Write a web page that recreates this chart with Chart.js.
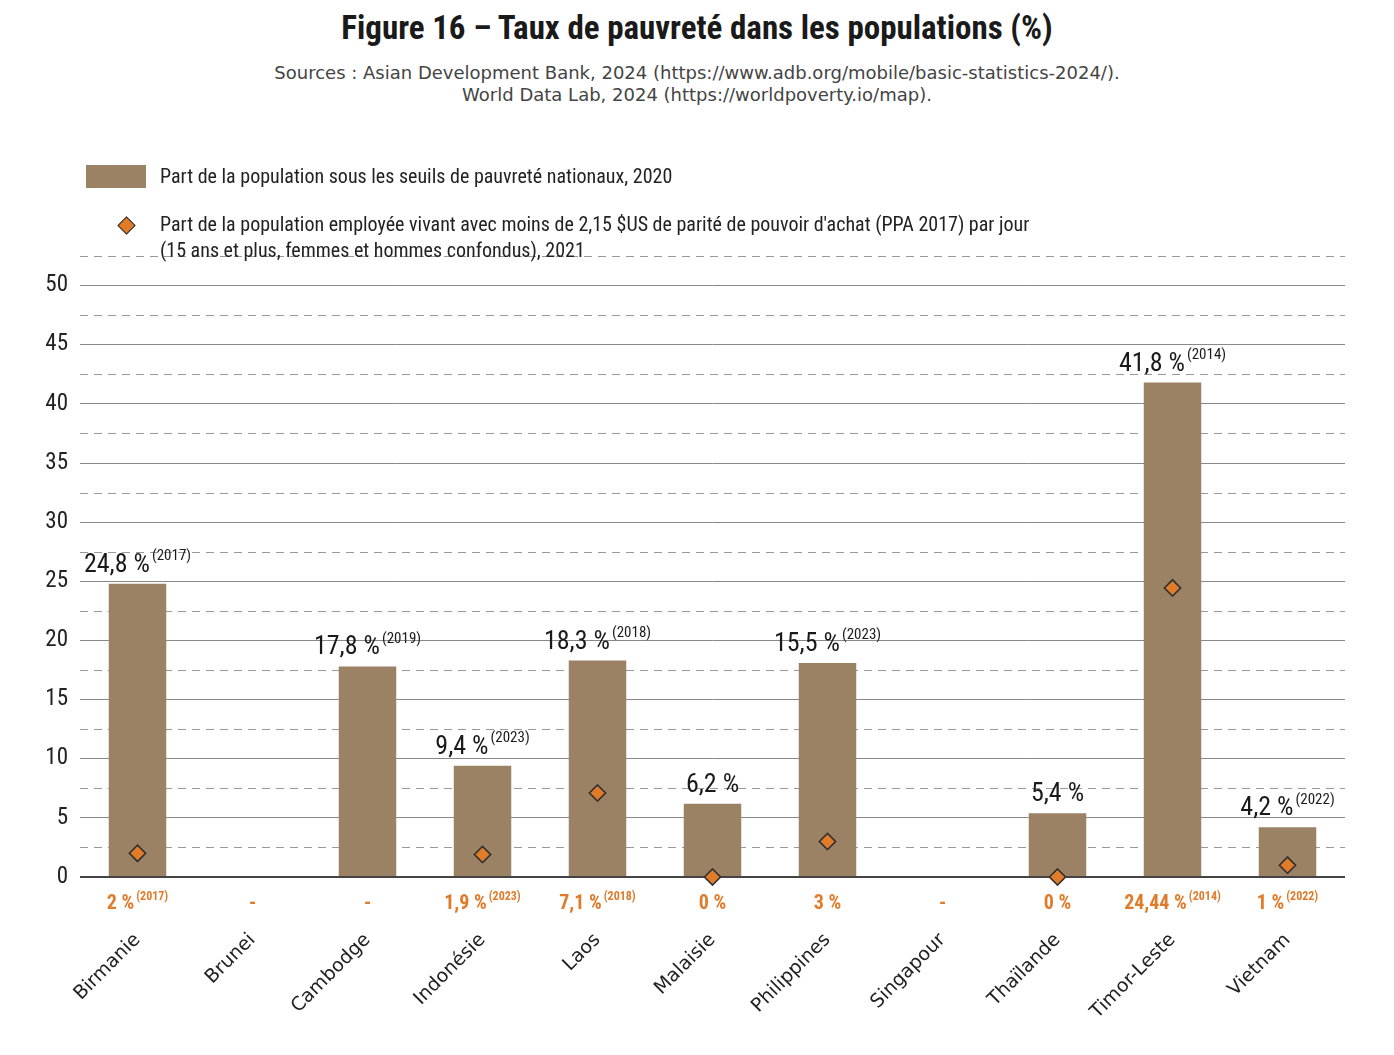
<!DOCTYPE html>
<html>
<head>
<meta charset="utf-8">
<script src="https://cdn.jsdelivr.net/npm/chart.js@4.4.1/dist/chart.umd.min.js"></script>
<style>
  body { margin: 0; width: 1394px; height: 1055px; background: #fff; position: relative; overflow: hidden; }
  #wrap { position: absolute; left: 0; top: 0; width: 1394px; height: 1055px; }
  .narrow { font-family: 'Liberation Sans Narrow', 'Roboto Condensed', 'Liberation Sans', sans-serif; }
  h1 { position: absolute; top: 8px; left: 0; width: 1394px; text-align: center; margin: 0; font-size: 33px; font-weight: bold; color: #1a1a1a; }
  .src { position: absolute; top: 62px; left: 0; width: 1394px; text-align: center; font-family: 'DejaVu Sans', sans-serif; font-size: 18px; color: #444; line-height: 22px; }
  .leg { position: absolute; font-size: 20px; color: #222; line-height: 26px; }
</style>
</head>
<body>
<h1 class="narrow">Figure 16 – Taux de pauvreté dans les populations (%)</h1>
<div class="src">Sources : Asian Development Bank, 2024 (https://www.adb.org/mobile/basic-statistics-2024/).<br>World Data Lab, 2024 (https://worldpoverty.io/map).</div>
<div id="wrap"><canvas id="c"></canvas></div>
<div style="position:absolute;left:86px;top:165px;width:60px;height:23px;background:#9c8264"></div>
<div class="leg narrow" style="left:160px;top:163px">Part de la population sous les seuils de pauvreté nationaux, 2020</div>
<div style="position:absolute;left:120px;top:219px;width:11px;height:11px;background:#e07b2a;border:1.5px solid #333;transform:rotate(45deg)"></div>
<div class="leg narrow" style="left:160px;top:211px">Part de la population employée vivant avec moins de 2,15 $US de parité de pouvoir d'achat (PPA 2017) par jour<br>(15 ans et plus, femmes et hommes confondus), 2021</div>
<script>
const countries = ['Birmanie', 'Brunei', 'Cambodge', 'Indonésie', 'Laos', 'Malaisie', 'Philippines', 'Singapour', 'Thaïlande', 'Timor-Leste', 'Vietnam'];
const nationalRate = [24.8, null, 17.8, 9.4, 18.3, 6.2, 18.1, null, 5.4, 41.8, 4.2];
const nationalLabel = ['24,8 %', '', '17,8 %', '9,4 %', '18,3 %', '6,2 %', '15,5 %', '', '5,4 %', '41,8 %', '4,2 %'];
const nationalYear = ['(2017)', '', '(2019)', '(2023)', '(2018)', '', '(2023)', '', '', '(2014)', '(2022)'];
const employedRate = [2, null, null, 1.9, 7.1, 0, 3, null, 0, 24.44, 1];
const employedLabel = ['2 %', '-', '-', '1,9 %', '7,1 %', '0 %', '3 %', '-', '0 %', '24,44 %', '1 %'];
const employedYear = ['(2017)', '', '', '(2023)', '(2018)', '', '', '', '', '(2014)', '(2022)'];

const NARROW = "'Liberation Sans Narrow', 'Roboto Condensed', sans-serif";

function drawSup(ctx, x, y, main, sup, size, supSize, color, bold) {
  ctx.fillStyle = color;
  ctx.textBaseline = 'alphabetic';
  ctx.font = (bold ? 'bold ' : '') + size + 'px ' + NARROW;
  const w1 = ctx.measureText(main).width;
  ctx.font = (bold ? 'bold ' : '') + supSize + 'px ' + NARROW;
  const w2 = sup ? ctx.measureText(sup).width + 2 : 0;
  const start = x - (w1 + w2) / 2;
  ctx.textAlign = 'left';
  ctx.font = (bold ? 'bold ' : '') + size + 'px ' + NARROW;
  ctx.fillText(main, start, y);
  if (sup) {
    ctx.font = (bold ? 'bold ' : '') + supSize + 'px ' + NARROW;
    ctx.fillText(sup, start + w1 + 2, y - size * 0.45);
  }
}

const extras = {
  id: 'extras',
  beforeDatasetsDraw(chart) {
    // dashed half-step grid lines
    const { ctx, chartArea, scales } = chart;
    ctx.save();
    ctx.strokeStyle = '#999';
    ctx.lineWidth = 1;
    ctx.setLineDash([8, 6]);
    for (let v = 2.5; v <= 52.5; v += 5) {
      const y = Math.round(scales.y.getPixelForValue(v)) + 0.5;
      ctx.beginPath();
      ctx.moveTo(chartArea.left, y);
      ctx.lineTo(chartArea.right, y);
      ctx.stroke();
    }
    ctx.restore();
  },
  afterDatasetsDraw(chart) {
    const { ctx, scales } = chart;
    ctx.save();
    const bars = chart.getDatasetMeta(1).data;
    countries.forEach((c, i) => {
      const x = scales.x.getPixelForValue(i);
      if (nationalLabel[i]) {
        const top = scales.y.getPixelForValue(nationalRate[i]);
        drawSup(ctx, x, top - 12, nationalLabel[i], nationalYear[i], 26, 15, '#1a1a1a', false);
      }
      drawSup(ctx, x, scales.y.bottom + 32, employedLabel[i], employedYear[i], 20, 12, '#e07b2a', true);
    });
    // baseline
    ctx.strokeStyle = '#444';
    ctx.lineWidth = 2;
    ctx.beginPath();
    ctx.moveTo(scales.x.left, scales.y.bottom);
    ctx.lineTo(scales.x.right, scales.y.bottom);
    ctx.stroke();
    ctx.restore();
  },
  afterDraw(chart) {
    // diamonds on top of baseline
    chart.getDatasetMeta(0).controller.draw();
  }
};

new Chart(document.getElementById('c'), {
  data: {
    labels: countries,
    datasets: [
      {
        type: 'line',
        label: 'Employés < 2,15 $US',
        data: employedRate,
        showLine: false,
        pointStyle: 'rectRot',
        pointRadius: 8,
        pointBackgroundColor: '#e07b2a',
        pointBorderColor: '#333',
        pointBorderWidth: 1.5,
        clip: false,
        order: 0
      },
      {
        type: 'bar',
        label: 'Seuils nationaux',
        data: nationalRate,
        backgroundColor: '#9c8264',
        barPercentage: 0.5,
        categoryPercentage: 1,
        order: 1
      }
    ]
  },
  options: {
    responsive: true,
    maintainAspectRatio: false,
    animation: false,
    layout: { padding: { top: 256, right: 49, bottom: 8, left: 0 } },
    plugins: { legend: { display: false }, tooltip: { enabled: false } },
    scales: {
      x: {
        grid: { display: false },
        border: { display: false },
        ticks: {
          maxRotation: 45, minRotation: 45, padding: 44,
          color: '#222',
          font: { family: "'DejaVu Sans', sans-serif", size: 19 }
        },
        afterFit(s) { s.height = 170; }
      },
      y: {
        min: 0, max: 52.5,
        border: { display: false },
        grid: {
          color: ctx => (ctx.tick && ctx.tick.value % 5 === 0) ? '#888' : 'rgba(0,0,0,0)',
          drawTicks: false
        },
        ticks: {
          stepSize: 2.5,
          padding: 12,
          color: '#222',
          font: { family: NARROW, size: 23 },
          callback: v => (v % 5 === 0 ? v : '')
        },
        afterFit(s) { s.width = 80; }
      }
    }
  },
  plugins: [extras]
});
</script>
</body>
</html>
